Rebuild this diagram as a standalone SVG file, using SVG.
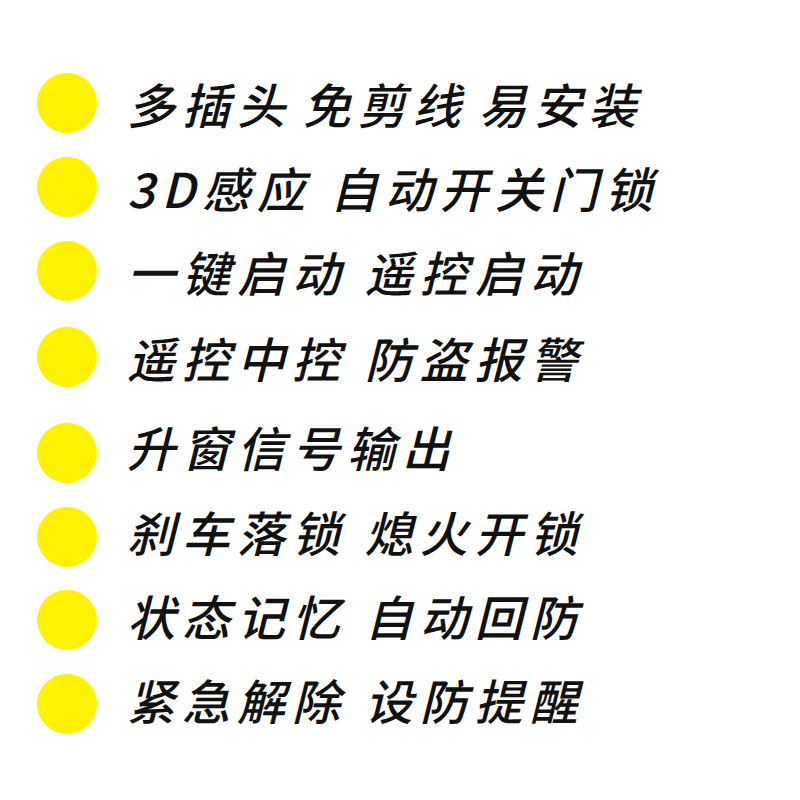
<svg xmlns="http://www.w3.org/2000/svg" width="800" height="800" viewBox="0 0 800 800">
<style>
.d{fill:#FFF200}
.t{font-family:"Noto Sans CJK SC","Noto Sans",sans-serif;font-size:48px;font-weight:500;font-style:italic;fill:#111;letter-spacing:7px}
</style>
<rect width="800" height="800" fill="#fff"/>
<g id="n1"><circle class="d" cx="67" cy="103" r="30"/><text class="t" x="127" y="124" word-spacing="-7">多插头 免剪线 易安装</text></g>
<g id="n2"><circle class="d" cx="67" cy="187" r="30"/><text class="t" x="127" y="208" letter-spacing="5">3D感应 自动开关门锁</text></g>
<g id="n3"><circle class="d" cx="67" cy="271" r="30"/><text class="t" x="127" y="292">一键启动 遥控启动</text></g>
<g id="n4"><circle class="d" cx="67" cy="357" r="30"/><text class="t" x="127" y="378">遥控中控 防盗报警</text></g>
<g id="n5"><circle class="d" cx="67" cy="453" r="30"/><text class="t" x="127" y="467">升窗信号输出</text></g>
<g id="n6"><circle class="d" cx="67" cy="537" r="30"/><text class="t" x="127" y="552">刹车落锁 熄火开锁</text></g>
<g id="n7"><circle class="d" cx="67" cy="620" r="30"/><text class="t" x="127" y="636">状态记忆 自动回防</text></g>
<g id="n8"><circle class="d" cx="67" cy="704" r="30"/><text class="t" x="127" y="720">紧急解除 设防提醒</text></g>
<g id="connectors"/>
</svg>
